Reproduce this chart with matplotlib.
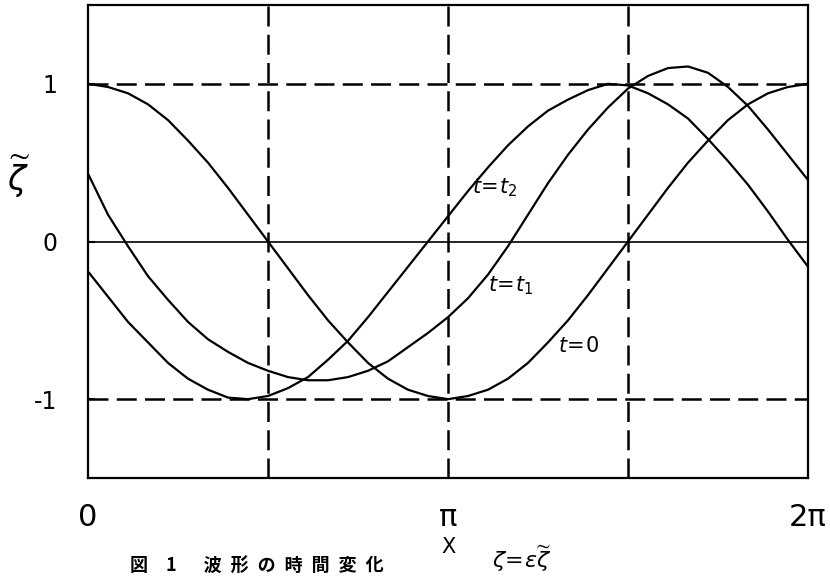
import matplotlib.pyplot as plt
import numpy as np

# sample positions along x (degrees, 0..360 -> 0..2pi)
x_deg = [0, 10, 20, 30, 40, 50, 60, 70, 80, 90, 100, 110, 120,
         130, 140, 150, 160, 170, 180, 190, 200, 210, 220, 230, 240,
         250, 260, 270, 280, 290, 300, 310, 320, 330, 340, 350, 360]

# wave profile, t = 0
zeta_t0 = [1.00, 0.98, 0.94, 0.87, 0.77, 0.64, 0.50, 0.34, 0.17, 0.00,
           -0.17, -0.34, -0.50, -0.64, -0.77, -0.87, -0.94, -0.98, -1.00,
           -0.98, -0.94, -0.87, -0.77, -0.64, -0.50, -0.34, -0.17, 0.00,
           0.17, 0.34, 0.50, 0.64, 0.77, 0.87, 0.94, 0.98, 1.00]

# t = t1
zeta_t1 = [0.43, 0.17, -0.03, -0.22, -0.37, -0.51, -0.62, -0.70, -0.77,
           -0.82, -0.86, -0.88, -0.88, -0.86, -0.82, -0.76, -0.67, -0.58,
           -0.48, -0.36, -0.21, -0.03, 0.17, 0.37, 0.55, 0.71, 0.85, 0.97,
           1.05, 1.10, 1.11, 1.07, 0.98, 0.86, 0.71, 0.55, 0.39]

# t = t2
zeta_t2 = [-0.19, -0.35, -0.51, -0.64, -0.77, -0.87, -0.94, -0.99, -1.00,
           -0.98, -0.93, -0.86, -0.75, -0.63, -0.48, -0.32, -0.16, 0.00,
           0.16, 0.32, 0.47, 0.61, 0.73, 0.83, 0.90, 0.96, 1.00, 0.99,
           0.94, 0.87, 0.78, 0.65, 0.51, 0.36, 0.19, 0.01, -0.16]

guide_x = [np.pi / 2, np.pi, 3 * np.pi / 2]
guide_y = [-1, 1]
xticks = [0, np.pi, 2 * np.pi]
xtick_labels = ["0", "π", "2π"]
yticks = [-1, 0, 1]
ytick_labels = ["-1", "0", "1"]

x = np.deg2rad(x_deg)

cjk_font = ["Noto Sans CJK JP", "DejaVu Sans"]

fig = plt.figure(figsize=(8.3, 5.78), dpi=100)
ax = fig.add_axes([88 / 830, 100 / 578, 720 / 830, 473 / 578])

for gx in guide_x:
    ax.axvline(gx, color="black", lw=1.8, dashes=(8, 3.3))
for gy in guide_y:
    ax.axhline(gy, color="black", lw=1.8, dashes=(8, 3.3))
ax.axhline(0, color="black", lw=1.2)

for z in (zeta_t0, zeta_t1, zeta_t2):
    ax.plot(x, z, color="black", lw=1.6, solid_joinstyle="round")

ax.set_xlim(0, 2 * np.pi)
ax.set_ylim(-1.5, 1.5)
for s in ax.spines.values():
    s.set_linewidth(1.6)

ax.set_xticks(xticks)
ax.set_xticklabels(xtick_labels, fontsize=22)
ax.set_yticks(yticks)
ax.set_yticklabels(ytick_labels, fontsize=17)
ax.tick_params(axis="x", length=0, pad=18)
ax.tick_params(axis="y", direction="in", length=5, width=1.5, pad=22)

ax.set_xlabel("X", fontsize=15)
ax.xaxis.set_label_coords(0.5, -0.125)
ax.set_ylabel(r"$\widetilde{\zeta}$", fontsize=24, rotation=0, va="center")
ax.yaxis.set_label_coords(-0.097, 0.636)

# curve labels
ax.text(3.35, 0.34, r"$t\!=\!t_2$", fontsize=15, va="center")
ax.text(3.49, -0.28, r"$t\!=\!t_1$", fontsize=15, va="center")
ax.text(4.10, -0.66, r"$t\!=\!0$", fontsize=15, va="center")

fig.text(130 / 830, 1 - 565 / 578,
         "図\u2002\u20021\u2002\u2002\u2002波\u2002形\u2002の\u2002時\u2002間\u2002変\u2002化",
         fontsize=13, fontweight="bold", family=cjk_font, va="center")
fig.text(492 / 830, 1 - 559 / 578, r"$\zeta\!=\!\varepsilon\widetilde{\zeta}$",
         fontsize=16, va="center")

fig.savefig("out.png", dpi=100, facecolor="white")
